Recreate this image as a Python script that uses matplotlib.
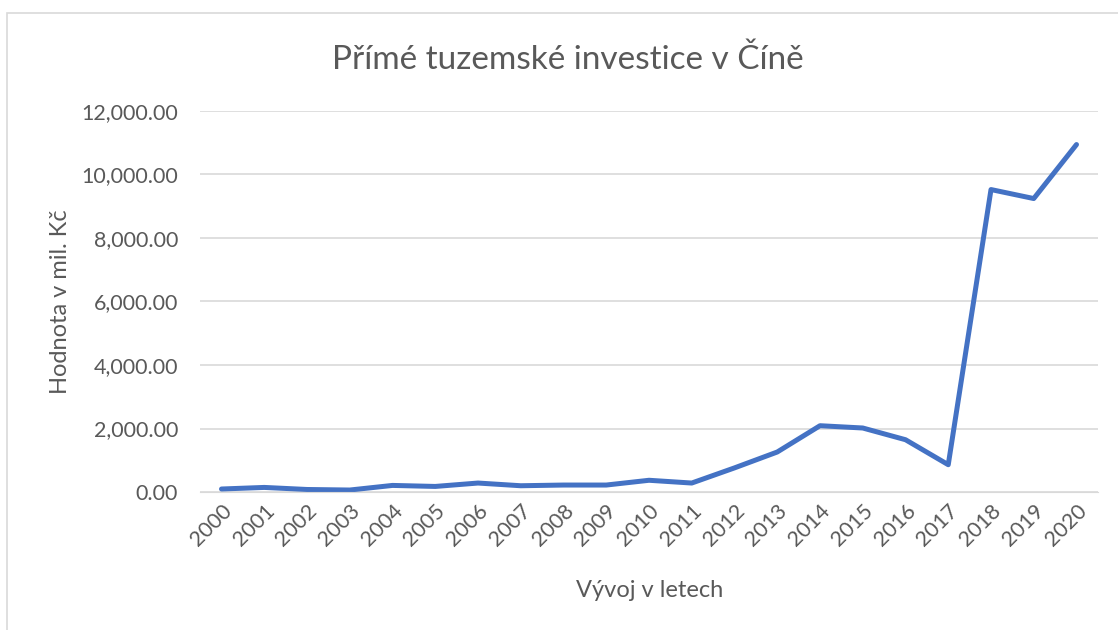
import matplotlib.pyplot as plt
import matplotlib.patches as patches
from matplotlib.ticker import FuncFormatter

years = [str(y) for y in range(2000, 2021)]
values = [95, 145, 80, 63, 208, 176, 283, 198, 220, 220, 370,
          283, 760, 1260, 2088, 2016, 1647, 860, 9523, 9240, 10940]

plt.rcParams['font.family'] = ['Lato', 'DejaVu Sans']
grey = '#595959'

fig = plt.figure(figsize=(11.18, 6.3), dpi=100)
ax = fig.add_axes([0.179, 0.219, 0.803, 0.605])

# chart frame (Excel-style outer border)
fig.patches.append(patches.Rectangle((7 / 1118, -0.1), 1.2, 1.1 - 13 / 630,
                                     transform=fig.transFigure, fill=False,
                                     edgecolor='#D9D9D9', lw=1.2))

x = list(range(len(years)))
ax.plot(x, values, color='#4472C4', lw=3.6, solid_joinstyle='round',
        solid_capstyle='round')

ax.set_xlim(-0.5, len(years) - 0.5)
ax.set_ylim(0, 12000)
ax.set_yticks(range(0, 12001, 2000))
ax.yaxis.set_major_formatter(FuncFormatter(lambda v, _: f'{v:,.2f}'))
ax.set_xticks(x)
ax.set_xticklabels(years, rotation=45, ha='right', rotation_mode='anchor')

ax.grid(axis='y', color='#D9D9D9', lw=1.2)
ax.set_axisbelow(True)
for s in ax.spines.values():
    s.set_visible(False)
ax.spines['bottom'].set_visible(True)
ax.spines['bottom'].set_color('#D9D9D9')
ax.tick_params(length=0, colors=grey, labelsize=15.5)
ax.tick_params(axis='y', pad=16)
ax.tick_params(axis='x', pad=6)

ax.set_ylabel('Hodnota v mil. Kč', color=grey, fontsize=17)
ax.set_xlabel('Vývoj v letech', color=grey, fontsize=17)
ax.yaxis.set_label_coords((60 - 200) / 898, 0.5)
ax.xaxis.set_label_coords((650 - 200) / 898, -(590 - 492) / 381)
ax.xaxis.label.set_va('center')
ax.yaxis.label.set_va('center')
fig.text(568 / 1118, 1 - 60 / 630, 'Přímé tuzemské investice v Číně', color=grey,
         fontsize=24, ha='center', va='center')

fig.savefig('out.png', dpi=100)
